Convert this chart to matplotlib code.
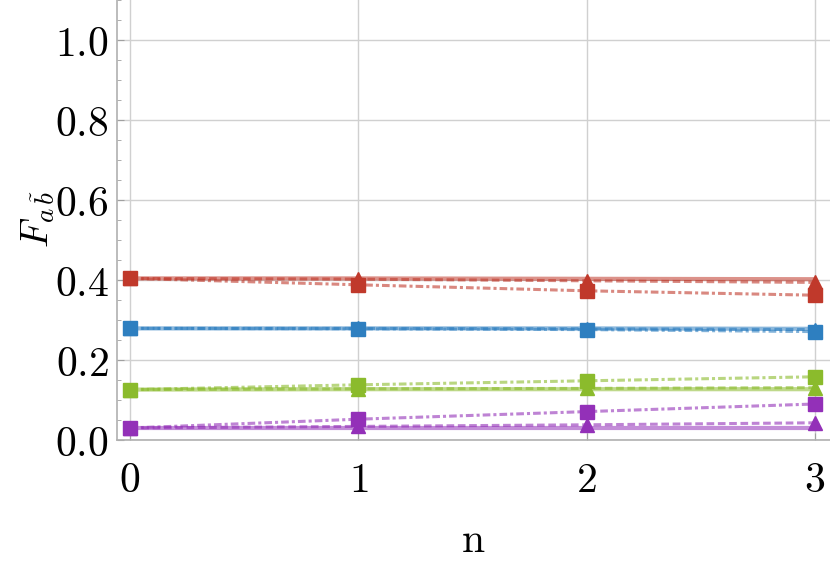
import matplotlib
matplotlib.use("Agg")
import matplotlib.pyplot as plt
from matplotlib.ticker import FixedLocator, FuncFormatter, MultipleLocator

plt.rcParams['mathtext.fontset'] = 'cm'
plt.rcParams['font.family'] = ['DejaVu Serif']

n = [0, 1, 2, 3]

# values per color: solid (const), dashed + triangles, dash-dot + squares
red_solid = [0.404, 0.404, 0.403, 0.402]
red_tri = [0.404, 0.402, 0.398, 0.394]
red_sq = [0.404, 0.388, 0.373, 0.362]

blue_solid = [0.279, 0.279, 0.279, 0.278]
blue_tri = [0.279, 0.279, 0.278, 0.276]
blue_sq = [0.279, 0.278, 0.276, 0.271]

green_solid = [0.126, 0.127, 0.127, 0.127]
green_tri = [0.126, 0.128, 0.129, 0.131]
green_sq = [0.126, 0.138, 0.148, 0.158]

purple_solid = [0.030, 0.030, 0.030, 0.030]
purple_tri = [0.030, 0.034, 0.038, 0.043]
purple_sq = [0.030, 0.052, 0.071, 0.090]

colors = {
    'red': '#C0392B',
    'blue': '#2E7FC0',
    'green': '#8BBB2C',
    'purple': '#9330B8',
}
series = [
    ('red', red_solid, red_tri, red_sq),
    ('blue', blue_solid, blue_tri, blue_sq),
    ('green', green_solid, green_tri, green_sq),
    ('purple', purple_solid, purple_tri, purple_sq),
]

fig = plt.figure(figsize=(8.3, 5.61), dpi=100)
ax = fig.add_axes([117/830, (561-440)/561, 713/830, 440/561])

for name, solid, tri, sq in series:
    c = colors[name]
    ax.plot(n, solid, '-', color=c, alpha=0.55, lw=3.0, zorder=2)
    ax.plot(n, tri, '--', color=c, alpha=0.6, lw=2.2, dashes=(2.5, 1.2), zorder=2)
    ax.plot(n, sq, '-.', color=c, alpha=0.6, lw=2.2, dashes=(2.5, 1, 1, 1), zorder=2)
    ax.plot(n, tri, '^', color=c, ms=10, mec=c, zorder=3)
    ax.plot(n, sq, 's', color=c, ms=9.5, mec=c, zorder=4)

ax.set_xlim(-0.057, 3.066)
ax.set_ylim(0, 1.1)

ax.xaxis.set_major_locator(FixedLocator([0, 1, 2, 3]))
ax.yaxis.set_major_locator(FixedLocator([0.0, 0.2, 0.4, 0.6, 0.8, 1.0]))
ax.yaxis.set_minor_locator(MultipleLocator(0.05))
ax.xaxis.set_major_formatter(FuncFormatter(lambda v, p: r'$%d$' % round(v)))
ax.yaxis.set_major_formatter(FuncFormatter(lambda v, p: r'$%.1f$' % v))

ax.grid(True, which='major', color='#d0d0d0', lw=1.0)
ax.set_axisbelow(True)
for s in ['top', 'right']:
    ax.spines[s].set_visible(False)
for s in ['left', 'bottom']:
    ax.spines[s].set_color('#b0b0b0')
    ax.spines[s].set_linewidth(1.2)

ax.tick_params(axis='both', which='major', labelsize=30, direction='in',
               color='#a0a0a0', length=5, pad=6)
ax.tick_params(axis='y', which='minor', direction='in', color='#a0a0a0', length=3)
ax.tick_params(axis='x', which='major', pad=14)

fig.text(473/830, 1 - 540/561, r'$\mathrm{n}$', fontsize=30, ha='center', va='center')
fig.text(38/830, 1 - 219/561, r'$F_{a\,\tilde{b}}$', fontsize=28,
         rotation=90, ha='center', va='center')

fig.savefig('out.png', dpi=100)
